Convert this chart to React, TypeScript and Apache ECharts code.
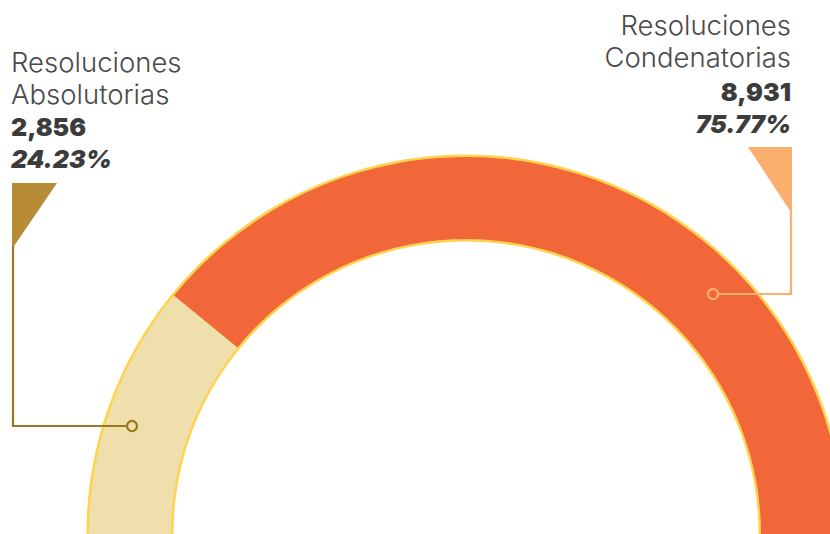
import React, { useEffect, useRef } from "react";
import * as echarts from "echarts";

const categories = ["Resoluciones Absolutorias", "Resoluciones Condenatorias"];
const nameLines = [
  ["Resoluciones", "Absolutorias"],
  ["Resoluciones", "Condenatorias"],
];
const values = [2856, 8931];
const sliceColors = ["#EEDFAD", "#F26739"];
const accentColors = ["#B88B37", "#FBAF6F"];
const lineColors = ["#9C7820", "#FBAF6F"];

const total = values.reduce((a, b) => a + b, 0);
const fmtNum = (v: number) => v.toLocaleString("en-US");
const fmtPct = (v: number) => ((v / total) * 100).toFixed(2) + "%";

export default function App() {
  const ref = useRef<HTMLDivElement>(null);
  useEffect(() => {
    if (!ref.current) return;
    const chart = echarts.init(ref.current, null, { renderer: "svg" });
    const nameFont = { fontFamily: "Inter", fontWeight: 300, fontSize: 27.5, fill: "#4a4a4a" };
    const numFont = { fontFamily: "Inter", fontWeight: 900, fontSize: 25, fill: "#3c3c3c" };
    const txt = (text: string, x: number, y: number, align: string, f: any, italic = false) => ({
      type: "text",
      x,
      y,
      silent: true,
      style: {
        text,
        ...f,
        fontStyle: italic ? "italic" : "normal",
        align,
        textAlign: align,
        verticalAlign: "middle",
        textVerticalAlign: "middle",
      },
    });
    const graphic: any[] = [
      // left annotation
      txt(nameLines[0][0], 11, 62, "left", nameFont),
      txt(nameLines[0][1], 11, 94, "left", nameFont),
      txt(fmtNum(values[0]), 11, 127, "left", numFont),
      txt(fmtPct(values[0]), 11, 159, "left", numFont, true),
      {
        type: "polygon",
        silent: true,
        shape: { points: [[12, 183], [57, 183], [12, 249]] },
        style: { fill: accentColors[0] },
      },
      {
        type: "polyline",
        silent: true,
        z: 10,
        shape: { points: [[13, 246], [13, 426], [127, 426]] },
        style: { stroke: lineColors[0], lineWidth: 2.2, fill: "none" },
      },
      {
        type: "circle",
        silent: true,
        z: 10,
        shape: { cx: 132, cy: 426, r: 5 },
        style: { stroke: lineColors[0], lineWidth: 2.2, fill: "none" },
      },
      // right annotation
      txt(nameLines[1][0], 791, 25, "right", nameFont),
      txt(nameLines[1][1], 791, 57, "right", nameFont),
      txt(fmtNum(values[1]), 791, 92, "right", numFont),
      txt(fmtPct(values[1]), 791, 124, "right", numFont, true),
      {
        type: "polygon",
        silent: true,
        shape: { points: [[748, 147], [792, 147], [792, 214]] },
        style: { fill: accentColors[1] },
      },
      {
        type: "polyline",
        silent: true,
        z: 10,
        shape: { points: [[791, 210], [791, 294], [718, 294]] },
        style: { stroke: lineColors[1], lineWidth: 2.2, fill: "none" },
      },
      {
        type: "circle",
        silent: true,
        z: 10,
        shape: { cx: 713, cy: 294, r: 5 },
        style: { stroke: lineColors[1], lineWidth: 2.2, fill: "none" },
      },
    ];
    chart.setOption({
      animation: false,
      backgroundColor: "#ffffff",
      series: [
        {
          type: "pie",
          silent: true,
          center: [466, 534],
          radius: [292.5, 379.5],
          label: { show: false },
          labelLine: { show: false },
          itemStyle: { color: "#FFD34D", borderWidth: 0 },
          data: [{ value: 1, name: "border" }],
          z: 1,
        },
        {
          type: "pie",
          silent: true,
          center: [466, 534],
          radius: [295, 377],
          startAngle: 228,
          clockwise: true,
          label: { show: false },
          labelLine: { show: false },
          emphasis: { disabled: true },
          itemStyle: { borderWidth: 0 },
          data: categories.map((name, i) => ({
            name,
            value: values[i],
            itemStyle: { color: sliceColors[i] },
          })),
          z: 2,
        },
      ],
      graphic,
    });
    return () => chart.dispose();
  }, []);
  return (
    <div
      ref={ref}
      style={{ position: "fixed", left: 0, top: 0, width: 830, height: 534 }}
    />
  );
}
